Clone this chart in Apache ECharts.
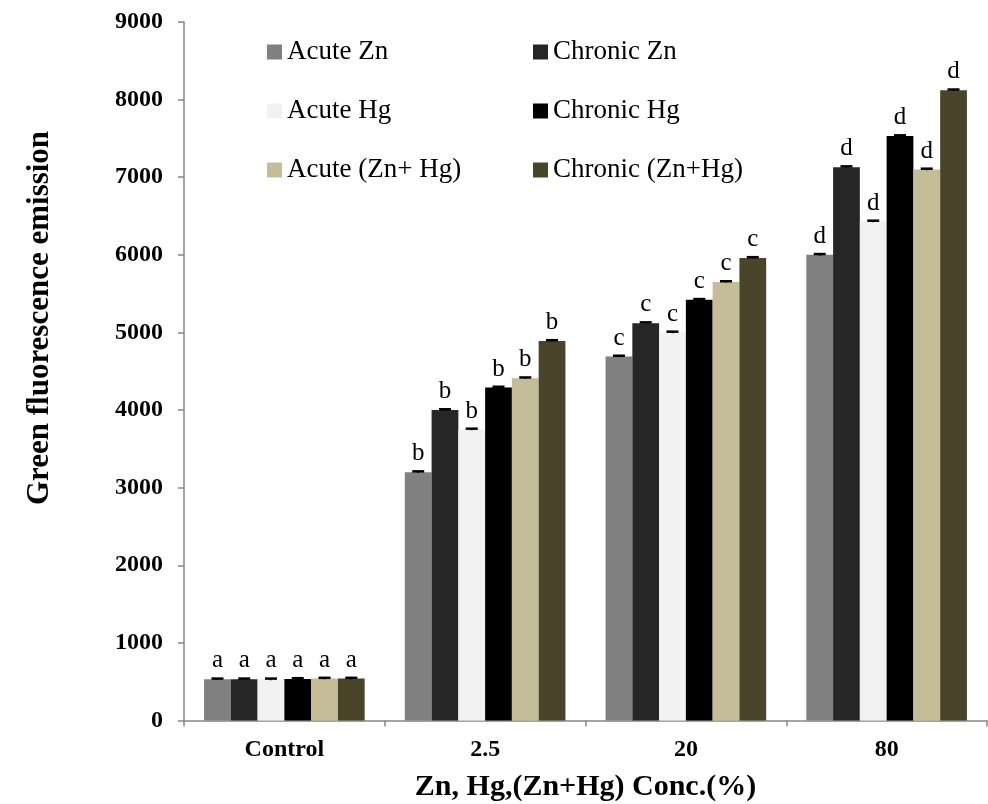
<!DOCTYPE html>
<html>
<head>
<meta charset="utf-8">
<script src="https://cdn.jsdelivr.net/npm/echarts@6/dist/echarts.min.js"></script>
<style>
  html, body { margin: 0; padding: 0; background: #fff; }
  #chart { width: 988px; height: 804px; }
</style>
</head>
<body>
<div id="chart"></div>
<script>
// Concentration groups on the x axis
const categories = ['Control', '2.5', '20', '80'];

// Significance letters shown above each group
const groupLetters = ['a', 'b', 'c', 'd'];

// Green fluorescence emission per treatment
const acuteZn      = [530, 3200, 4690, 6000];
const chronicZn    = [530, 4000, 5120, 7130];
const acuteHg      = [530, 3750, 5000, 6430];
const chronicHg    = [535, 4290, 5420, 7530];
const acuteZnHg    = [540, 4410, 5650, 7100];
const chronicZnHg  = [540, 4890, 5960, 8120];

// Standard errors (very small)
const seAcuteZn     = [10, 10, 10, 10];
const seChronicZn   = [10, 10, 10, 10];
const seAcuteHg     = [10, 10, 10, 10];
const seChronicHg   = [10, 10, 10, 10];
const seAcuteZnHg   = [10, 10, 10, 10];
const seChronicZnHg = [10, 10, 10, 10];

const yTicks = [0, 1000, 2000, 3000, 4000, 5000, 6000, 7000, 8000, 9000];

const seriesNames = ['Acute Zn', 'Chronic Zn', 'Acute Hg', 'Chronic Hg', 'Acute (Zn+ Hg)', 'Chronic (Zn+Hg)'];
const seriesValues = [acuteZn, chronicZn, acuteHg, chronicHg, acuteZnHg, chronicZnHg];
const seriesErrors = [seAcuteZn, seChronicZn, seAcuteHg, seChronicHg, seAcuteZnHg, seChronicZnHg];
const seriesColors = ['#808080', '#262626', '#f2f2f2', '#000000', '#c4bd97', '#4a452a'];

const serif = "'Times New Roman', 'Liberation Serif', serif";
const BAR_GAP_RATIO = 0.2;

const barSeries = seriesNames.map((name, s) => ({
  name: name,
  type: 'bar',
  data: seriesValues[s],
  barGap: '0%',
  barCategoryGap: '20%',
  itemStyle: { color: seriesColors[s] },
  label: {
    show: true,
    position: 'top',
    distance: 6,
    formatter: p => groupLetters[p.dataIndex],
    fontFamily: serif,
    fontSize: 25,
    color: '#000'
  },
  z: 2
}));

// Error bar caps drawn on top of each bar
const errData = [];
seriesValues.forEach((vals, s) => {
  vals.forEach((v, c) => errData.push([c, v, seriesErrors[s][c], s]));
});

const errSeries = {
  type: 'custom',
  name: 'errors',
  data: errData,
  encode: { x: 0, y: 1 },
  z: 5,
  silent: true,
  renderItem: function (params, api) {
    const c = api.value(0);
    const v = api.value(1);
    const e = api.value(2);
    const s = api.value(3);
    const band = api.size([1, 0])[0];
    const area = band * (1 - BAR_GAP_RATIO);
    const barW = area / seriesNames.length;
    const center = api.coord([c, 0])[0];
    const x = center - area / 2 + barW * (s + 0.5);
    const yHi = api.coord([c, v + e])[1];
    const yLo = api.coord([c, v - e])[1];
    const half = 6;
    return {
      type: 'group',
      children: [
        { type: 'line', shape: { x1: x, y1: yLo, x2: x, y2: yHi }, style: { stroke: '#000', lineWidth: 1.5 } },
        { type: 'line', shape: { x1: x - half, y1: yHi, x2: x + half, y2: yHi }, style: { stroke: '#000', lineWidth: 2.5 } }
      ]
    };
  }
};

const chart = echarts.init(document.getElementById('chart'), null, { renderer: 'canvas' });

const legendCommon = {
  orient: 'vertical',
  icon: 'rect',
  itemWidth: 15,
  itemHeight: 15,
  itemGap: 31,
  textStyle: { fontFamily: serif, fontSize: 27, color: '#000', lineHeight: 28 },
  selectedMode: false
};

chart.setOption({
  backgroundColor: '#fff',
  animation: false,
  textStyle: { fontFamily: serif },
  grid: { left: 184, right: 1, top: 22, bottom: 83.5, containLabel: false, outerBoundsMode: 'none' },
  legend: [
    Object.assign({}, legendCommon, { left: 262, top: 33, data: [seriesNames[0], seriesNames[2], seriesNames[4]] }),
    Object.assign({}, legendCommon, { left: 528, top: 33, data: [seriesNames[1], seriesNames[3], seriesNames[5]] })
  ],
  xAxis: {
    type: 'category',
    data: categories,
    name: 'Zn, Hg,(Zn+Hg) Conc.(%)',
    nameLocation: 'middle',
    nameGap: 52,
    nameTextStyle: { fontFamily: serif, fontSize: 30, fontWeight: 'bold', color: '#000' },
    axisLine: { lineStyle: { color: '#868686', width: 1.5 } },
    axisTick: { show: true, length: 6, lineStyle: { color: '#868686', width: 1.5 } },
    axisLabel: { fontFamily: serif, fontSize: 24, fontWeight: 'bold', color: '#000', margin: 17 }
  },
  yAxis: {
    type: 'value',
    min: 0,
    max: yTicks[yTicks.length - 1],
    interval: yTicks[1] - yTicks[0],
    axisLine: { show: true, lineStyle: { color: '#868686', width: 1.5 } },
    axisTick: { show: true, length: 6, lineStyle: { color: '#868686', width: 1.5 } },
    splitLine: { show: false },
    axisLabel: {
      fontFamily: serif, fontSize: 24, fontWeight: 'bold', color: '#000', margin: 21,
      formatter: v => String(v)
    }
  },
  graphic: [{
    type: 'text',
    x: 40,
    y: 318,
    rotation: Math.PI / 2,
    style: {
      text: 'Green fluorescence emission',
      fontFamily: serif,
      fontSize: 31,
      fontWeight: 'bold',
      fill: '#000',
      align: 'center',
      verticalAlign: 'middle'
    }
  }],
  series: barSeries.concat([errSeries])
});
</script>
</body>
</html>
